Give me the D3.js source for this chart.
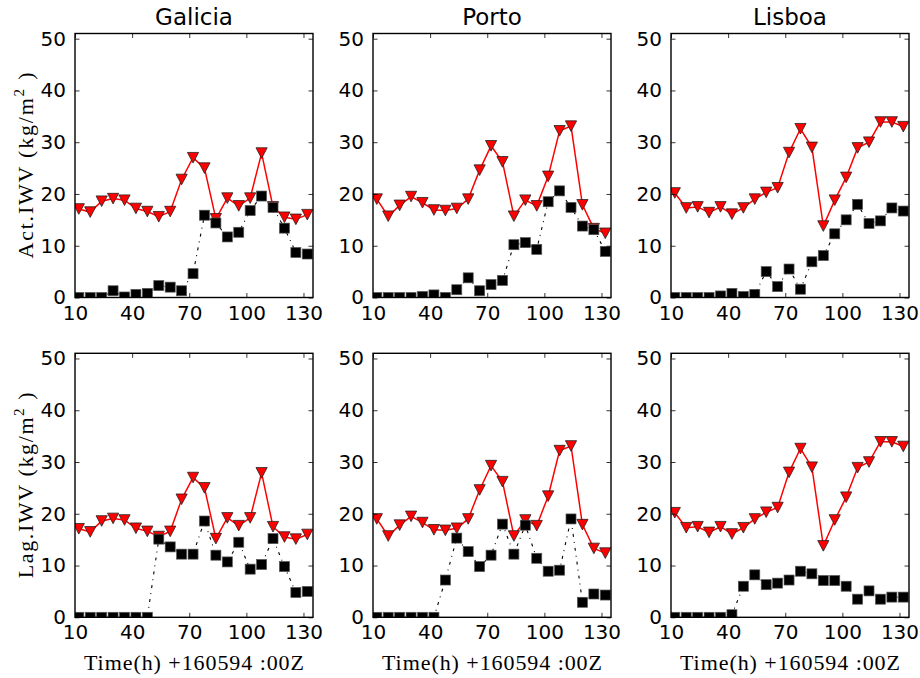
<!DOCTYPE html>
<html><head><meta charset="utf-8">
<script src="https://cdn.jsdelivr.net/npm/d3@7"></script>
<style>body{margin:0;background:#fff}svg{display:block}</style>
</head><body>
<script>
// ---- data ----
const hours = [12,18,24,30,36,42,48,54,60,66,72,78,84,90,96,102,108,114,120,126,132];
const sites = ["Galicia","Porto","Lisboa"];
const rowLabels = ["Act.IWV","Lag.IWV"];
const xTicks = [10,40,70,100,130];
const yTicks = [0,10,20,30,40,50];

const redGalicia = [17.1,16.5,18.6,19.1,18.8,17.2,16.6,15.6,16.6,22.8,27.0,25.0,15.2,19.2,17.7,19.2,27.9,17.5,15.5,15.1,16.0];
const redPorto   = [19.0,15.7,17.8,19.5,18.3,16.9,16.8,17.2,19.0,24.6,29.3,26.2,15.7,18.8,17.7,23.4,32.2,33.1,17.9,13.3,12.4];
const redLisboa  = [20.2,17.3,17.5,16.4,17.5,16.1,17.3,19.0,20.3,21.2,28.0,32.6,29.0,13.8,18.8,23.2,28.9,30.0,33.9,33.9,33.0];

const actGalicia = [0,0,0,1.3,0.1,0.6,0.8,2.3,2.0,1.3,4.6,15.9,14.4,11.7,12.6,16.8,19.6,17.4,13.4,8.7,8.4];
const actPorto   = [0,0,0,0,0.2,0.5,0,1.5,3.8,1.3,2.5,3.3,10.2,10.6,9.3,18.5,20.6,17.4,13.8,13.1,8.9];
const actLisboa  = [0,0,0,0,0.3,0.8,0.2,0.6,5.0,2.1,5.5,1.6,6.9,8.1,12.3,15.0,18.0,14.3,14.8,17.3,16.7];

const lagGalicia = [0,0,0,0,0,0,0,15.1,13.6,12.2,12.2,18.6,12.0,10.7,14.5,9.3,10.2,15.2,9.8,4.8,5.0];
const lagPorto   = [0,0,0,0,0,0,7.2,15.3,12.7,9.8,12.0,18.0,12.2,17.8,11.4,8.9,9.1,19.0,2.9,4.5,4.3];
const lagLisboa  = [0,0,0,0,0,0.5,6.0,8.2,6.3,6.6,7.2,8.9,8.4,7.1,7.1,6.0,3.5,5.1,3.5,3.9,3.9];

const redSeries = [redGalicia, redPorto, redLisboa];
const blackSeries = [[actGalicia, actPorto, actLisboa],[lagGalicia, lagPorto, lagLisboa]];

// ---- layout ----
const W = 920, H = 678;
const colX = [75, 373, 671], rowY = [33.5, 353.3];
const pw = 238, ph = 264;

const svg = d3.select("body").append("svg").attr("width", W).attr("height", H);
const x = d3.scaleLinear().domain([10,135]).range([0,pw]);
const y = d3.scaleLinear().domain([0,51]).range([ph,0]);

const tri = "M0,5.3L-5.6,-5.3L5.6,-5.3Z";

for (let r=0;r<2;r++) for (let c=0;c<3;c++) {
  const g = svg.append("g").attr("transform",`translate(${colX[c]},${rowY[r]})`);
  const id = `clip${r}${c}`;
  g.append("clipPath").attr("id",id).append("rect").attr("width",pw).attr("height",ph);
  const data = hours.map((h,i)=>({h, red: redSeries[c][i], blk: blackSeries[r][c][i]}));
  const plot = g.append("g").attr("clip-path",`url(#${id})`);
  const lineRed = d3.line().x(d=>x(d.h)).y(d=>y(d.red));
  const lineBlk = d3.line().x(d=>x(d.h)).y(d=>y(d.blk));
  plot.append("path").datum(data).attr("d",lineRed).attr("fill","none").attr("stroke","#ff0000").attr("stroke-width",1.5);
  plot.selectAll(".tri").data(data).enter().append("path")
    .attr("d",tri).attr("transform",d=>`translate(${x(d.h)},${y(d.red)})`)
    .attr("fill","#ff0000").attr("stroke","#222").attr("stroke-width",0.8);
  plot.append("path").datum(data).attr("d",lineBlk).attr("fill","none").attr("stroke","#000").attr("stroke-width",1.1).attr("stroke-dasharray","3,5,1,5");
  plot.selectAll(".sq").data(data).enter().append("rect")
    .attr("x",d=>x(d.h)-5).attr("y",d=>y(d.blk)-5).attr("width",10).attr("height",10)
    .attr("fill","#000").attr("stroke","#555").attr("stroke-width",0.7);

  // axes: ticks inward on all sides
  const ax = [
    d3.axisBottom(x).tickValues(xTicks).tickSizeInner(-4.5).tickSizeOuter(0).tickPadding(8),
    d3.axisTop(x).tickValues(xTicks).tickSizeInner(-4.5).tickSizeOuter(0).tickFormat(""),
    d3.axisLeft(y).tickValues(yTicks).tickSizeInner(-4.5).tickSizeOuter(0).tickPadding(9),
    d3.axisRight(y).tickValues(yTicks).tickSizeInner(-4.5).tickSizeOuter(0).tickFormat("")
  ];
  const pos = [`translate(0,${ph})`,`translate(0,0)`,`translate(0,0)`,`translate(${pw},0)`];
  ax.forEach((a,k)=>{
    const ag = g.append("g").attr("transform",pos[k]).call(a);
    ag.select(".domain").remove();
    ag.selectAll("line").attr("stroke","#000").attr("stroke-width",0.8);
    ag.selectAll("text").attr("font-family","DejaVu Sans").attr("font-size",20).attr("fill","#000");
  });
  g.append("rect").attr("width",pw).attr("height",ph).attr("fill","none").attr("stroke","#000").attr("stroke-width",1.4);

  if (r===0) {
    g.append("text").attr("x",pw/2).attr("y",-8.5).attr("text-anchor","middle")
      .attr("font-family","DejaVu Sans").attr("font-size",23).text(sites[c]);
  }
  if (r===1) {
    g.append("text").attr("x",pw/2).attr("y",ph+53).attr("text-anchor","middle")
      .attr("font-family","Liberation Serif").attr("font-size",22)
      .attr("textLength",220).attr("lengthAdjust","spacing")
      .text("Time(h) +160594 :00Z");
  }
  if (c===0) {
    const t = svg.append("text")
      .attr("transform",`translate(33,${rowY[r]+ph/2}) rotate(-90)`)
      .attr("text-anchor","middle").attr("font-family","Liberation Serif").attr("font-size",22)
      .attr("textLength",186).attr("lengthAdjust","spacing");
    t.append("tspan").text(rowLabels[r]+" (kg/m");
    t.append("tspan").attr("font-size",15).attr("dy",-9).text("2");
    t.append("tspan").attr("dy",9).text(" )");
  }
}
</script>
</body></html>
